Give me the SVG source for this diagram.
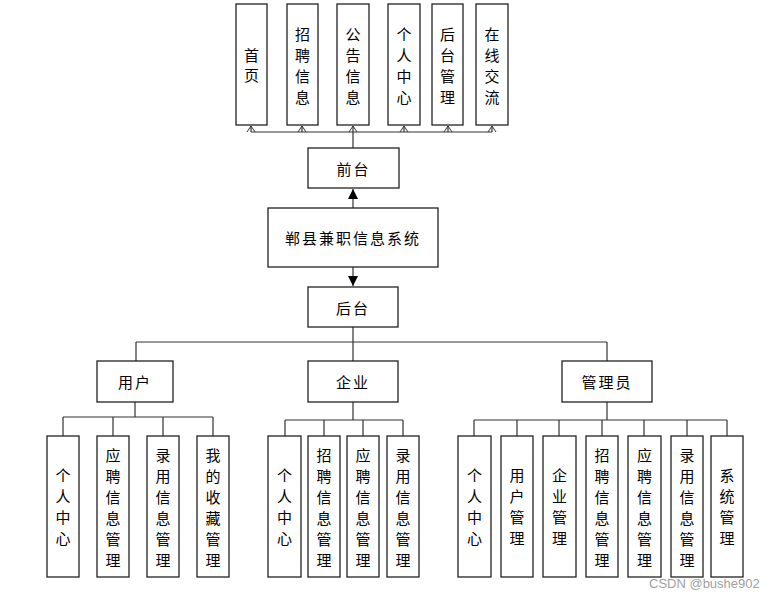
<svg xmlns="http://www.w3.org/2000/svg" width="778" height="599" viewBox="0 0 778 599">
<style>
.box{fill:#fff;stroke:#222;stroke-width:1.3}
.t{font-family:"Noto Sans CJK SC","Liberation Sans",sans-serif;font-size:15px;fill:#000;text-anchor:middle;dominant-baseline:central}
.ln{fill:none;stroke:#333;stroke-width:1.2}
.wm{font-family:"Liberation Sans",sans-serif;font-size:13px;fill:#a0a0a0}
</style>
<defs>
<marker id="open" markerWidth="10" markerHeight="10" refX="9" refY="5" orient="auto" markerUnits="userSpaceOnUse" viewBox="0 0 10 10">
<path d="M3,1 L9,5 L3,9" fill="none" stroke="#333" stroke-width="1"/>
</marker>
<marker id="fill" markerWidth="12" markerHeight="12" refX="10" refY="6" orient="auto" markerUnits="userSpaceOnUse" viewBox="0 0 12 12">
<path d="M0,1 L10,6 L0,11 Z" fill="#000"/>
</marker>
</defs>
<g id="connectors">
<path class="ln" d="M251,132 H492"/>
<path class="ln" d="M353,148 V132"/>
<path class="ln" d="M251,132 V126" marker-end="url(#open)"/>
<path class="ln" d="M302,132 V126" marker-end="url(#open)"/>
<path class="ln" d="M353,132 V126" marker-end="url(#open)"/>
<path class="ln" d="M404,132 V126" marker-end="url(#open)"/>
<path class="ln" d="M448,132 V126" marker-end="url(#open)"/>
<path class="ln" d="M492,132 V126" marker-end="url(#open)"/>
<path class="ln" d="M353,208 V189" marker-end="url(#fill)"/>
<path class="ln" d="M353,267 V286" marker-end="url(#fill)"/>
<path class="ln" d="M353,327 V342 M136,342 H607 M136,342 V361 M353,342 V361 M607,342 V361"/>
<path class="ln" d="M135,402 V417 M63,417 H213 M63,417 V436 M113,417 V436 M163,417 V436 M213,417 V436"/>
<path class="ln" d="M353,402 V420 M285,420 H403 M285,420 V436 M324,420 V436 M363,420 V436 M403,420 V436"/>
<path class="ln" d="M607,402 V420 M474,420 H727 M474,420 V436 M517,420 V436 M559,420 V436 M602,420 V436 M644,420 V436 M687,420 V436 M727,420 V436"/>
</g>
<g id="n-home"><rect class="box" x="236" y="4" width="31" height="121"/><text class="t"><tspan x="251.5" y="54">首</tspan><tspan x="251.5" y="74">页</tspan></text></g>
<g id="n-zpxx"><rect class="box" x="287" y="4" width="31" height="121"/><text class="t"><tspan x="302.5" y="33">招</tspan><tspan x="302.5" y="54">聘</tspan><tspan x="302.5" y="75">信</tspan><tspan x="302.5" y="96">息</tspan></text></g>
<g id="n-ggxx"><rect class="box" x="337" y="4" width="32" height="121"/><text class="t"><tspan x="353" y="33">公</tspan><tspan x="353" y="54">告</tspan><tspan x="353" y="75">信</tspan><tspan x="353" y="96">息</tspan></text></g>
<g id="n-grzx"><rect class="box" x="388" y="4" width="32" height="121"/><text class="t"><tspan x="404" y="33">个</tspan><tspan x="404" y="54">人</tspan><tspan x="404" y="75">中</tspan><tspan x="404" y="96">心</tspan></text></g>
<g id="n-htgl"><rect class="box" x="432" y="4" width="31" height="121"/><text class="t"><tspan x="447.5" y="33">后</tspan><tspan x="447.5" y="54">台</tspan><tspan x="447.5" y="75">管</tspan><tspan x="447.5" y="96">理</tspan></text></g>
<g id="n-zxjl"><rect class="box" x="476" y="4" width="32" height="121"/><text class="t"><tspan x="492" y="33">在</tspan><tspan x="492" y="54">线</tspan><tspan x="492" y="75">交</tspan><tspan x="492" y="96">流</tspan></text></g>
<g id="n-front"><rect class="box" x="308" y="148" width="91" height="40"/><text class="t" x="353.5" y="168" letter-spacing="2">前台</text></g>
<g id="n-system"><rect class="box" x="268" y="208" width="170" height="59"/><text class="t" x="353" y="237" letter-spacing="2">郸县兼职信息系统</text></g>
<g id="n-back"><rect class="box" x="308" y="287" width="90" height="40"/><text class="t" x="353" y="307" letter-spacing="2">后台</text></g>
<g id="n-user"><rect class="box" x="97" y="361" width="76" height="41"/><text class="t" x="135" y="381" letter-spacing="2">用户</text></g>
<g id="n-company"><rect class="box" x="308" y="361" width="90" height="41"/><text class="t" x="353" y="381" letter-spacing="2">企业</text></g>
<g id="n-admin"><rect class="box" x="562" y="361" width="90" height="41"/><text class="t" x="607" y="381" letter-spacing="2">管理员</text></g>
<g id="u-grzx"><rect class="box" x="47" y="436" width="32" height="141"/><text class="t"><tspan x="63" y="474">个</tspan><tspan x="63" y="495">人</tspan><tspan x="63" y="516">中</tspan><tspan x="63" y="537">心</tspan></text></g>
<g id="u-ypxx"><rect class="box" x="97" y="436" width="32" height="141"/><text class="t"><tspan x="113" y="454">应</tspan><tspan x="113" y="475">聘</tspan><tspan x="113" y="496">信</tspan><tspan x="113" y="517">息</tspan><tspan x="113" y="538">管</tspan><tspan x="113" y="559">理</tspan></text></g>
<g id="u-lyxx"><rect class="box" x="147" y="436" width="32" height="141"/><text class="t"><tspan x="163" y="454">录</tspan><tspan x="163" y="475">用</tspan><tspan x="163" y="496">信</tspan><tspan x="163" y="517">息</tspan><tspan x="163" y="538">管</tspan><tspan x="163" y="559">理</tspan></text></g>
<g id="u-wdsc"><rect class="box" x="197" y="436" width="32" height="141"/><text class="t"><tspan x="213" y="454">我</tspan><tspan x="213" y="475">的</tspan><tspan x="213" y="496">收</tspan><tspan x="213" y="517">藏</tspan><tspan x="213" y="538">管</tspan><tspan x="213" y="559">理</tspan></text></g>
<g id="c-grzx"><rect class="box" x="268" y="436" width="33" height="141"/><text class="t"><tspan x="284.5" y="474">个</tspan><tspan x="284.5" y="495">人</tspan><tspan x="284.5" y="516">中</tspan><tspan x="284.5" y="537">心</tspan></text></g>
<g id="c-zpxx"><rect class="box" x="308" y="436" width="32" height="141"/><text class="t"><tspan x="324" y="454">招</tspan><tspan x="324" y="475">聘</tspan><tspan x="324" y="496">信</tspan><tspan x="324" y="517">息</tspan><tspan x="324" y="538">管</tspan><tspan x="324" y="559">理</tspan></text></g>
<g id="c-ypxx"><rect class="box" x="347" y="436" width="32" height="141"/><text class="t"><tspan x="363" y="454">应</tspan><tspan x="363" y="475">聘</tspan><tspan x="363" y="496">信</tspan><tspan x="363" y="517">息</tspan><tspan x="363" y="538">管</tspan><tspan x="363" y="559">理</tspan></text></g>
<g id="c-lyxx"><rect class="box" x="387" y="436" width="32" height="141"/><text class="t"><tspan x="403" y="454">录</tspan><tspan x="403" y="475">用</tspan><tspan x="403" y="496">信</tspan><tspan x="403" y="517">息</tspan><tspan x="403" y="538">管</tspan><tspan x="403" y="559">理</tspan></text></g>
<g id="a-grzx"><rect class="box" x="458" y="436" width="33" height="141"/><text class="t"><tspan x="474.5" y="474">个</tspan><tspan x="474.5" y="495">人</tspan><tspan x="474.5" y="516">中</tspan><tspan x="474.5" y="537">心</tspan></text></g>
<g id="a-yhgl"><rect class="box" x="501" y="436" width="32" height="141"/><text class="t"><tspan x="517" y="474">用</tspan><tspan x="517" y="495">户</tspan><tspan x="517" y="516">管</tspan><tspan x="517" y="537">理</tspan></text></g>
<g id="a-qygl"><rect class="box" x="543" y="436" width="33" height="141"/><text class="t"><tspan x="559.5" y="474">企</tspan><tspan x="559.5" y="495">业</tspan><tspan x="559.5" y="516">管</tspan><tspan x="559.5" y="537">理</tspan></text></g>
<g id="a-zpxx"><rect class="box" x="586" y="436" width="32" height="141"/><text class="t"><tspan x="602" y="454">招</tspan><tspan x="602" y="475">聘</tspan><tspan x="602" y="496">信</tspan><tspan x="602" y="517">息</tspan><tspan x="602" y="538">管</tspan><tspan x="602" y="559">理</tspan></text></g>
<g id="a-ypxx"><rect class="box" x="628" y="436" width="33" height="141"/><text class="t"><tspan x="644.5" y="454">应</tspan><tspan x="644.5" y="475">聘</tspan><tspan x="644.5" y="496">信</tspan><tspan x="644.5" y="517">息</tspan><tspan x="644.5" y="538">管</tspan><tspan x="644.5" y="559">理</tspan></text></g>
<g id="a-lyxx"><rect class="box" x="671" y="436" width="32" height="141"/><text class="t"><tspan x="687" y="454">录</tspan><tspan x="687" y="475">用</tspan><tspan x="687" y="496">信</tspan><tspan x="687" y="517">息</tspan><tspan x="687" y="538">管</tspan><tspan x="687" y="559">理</tspan></text></g>
<g id="a-xtgl"><rect class="box" x="711" y="436" width="32" height="141"/><text class="t"><tspan x="727" y="474">系</tspan><tspan x="727" y="495">统</tspan><tspan x="727" y="516">管</tspan><tspan x="727" y="537">理</tspan></text></g>
<text class="wm" x="649" y="588">CSDN @bushe902</text>
</svg>
